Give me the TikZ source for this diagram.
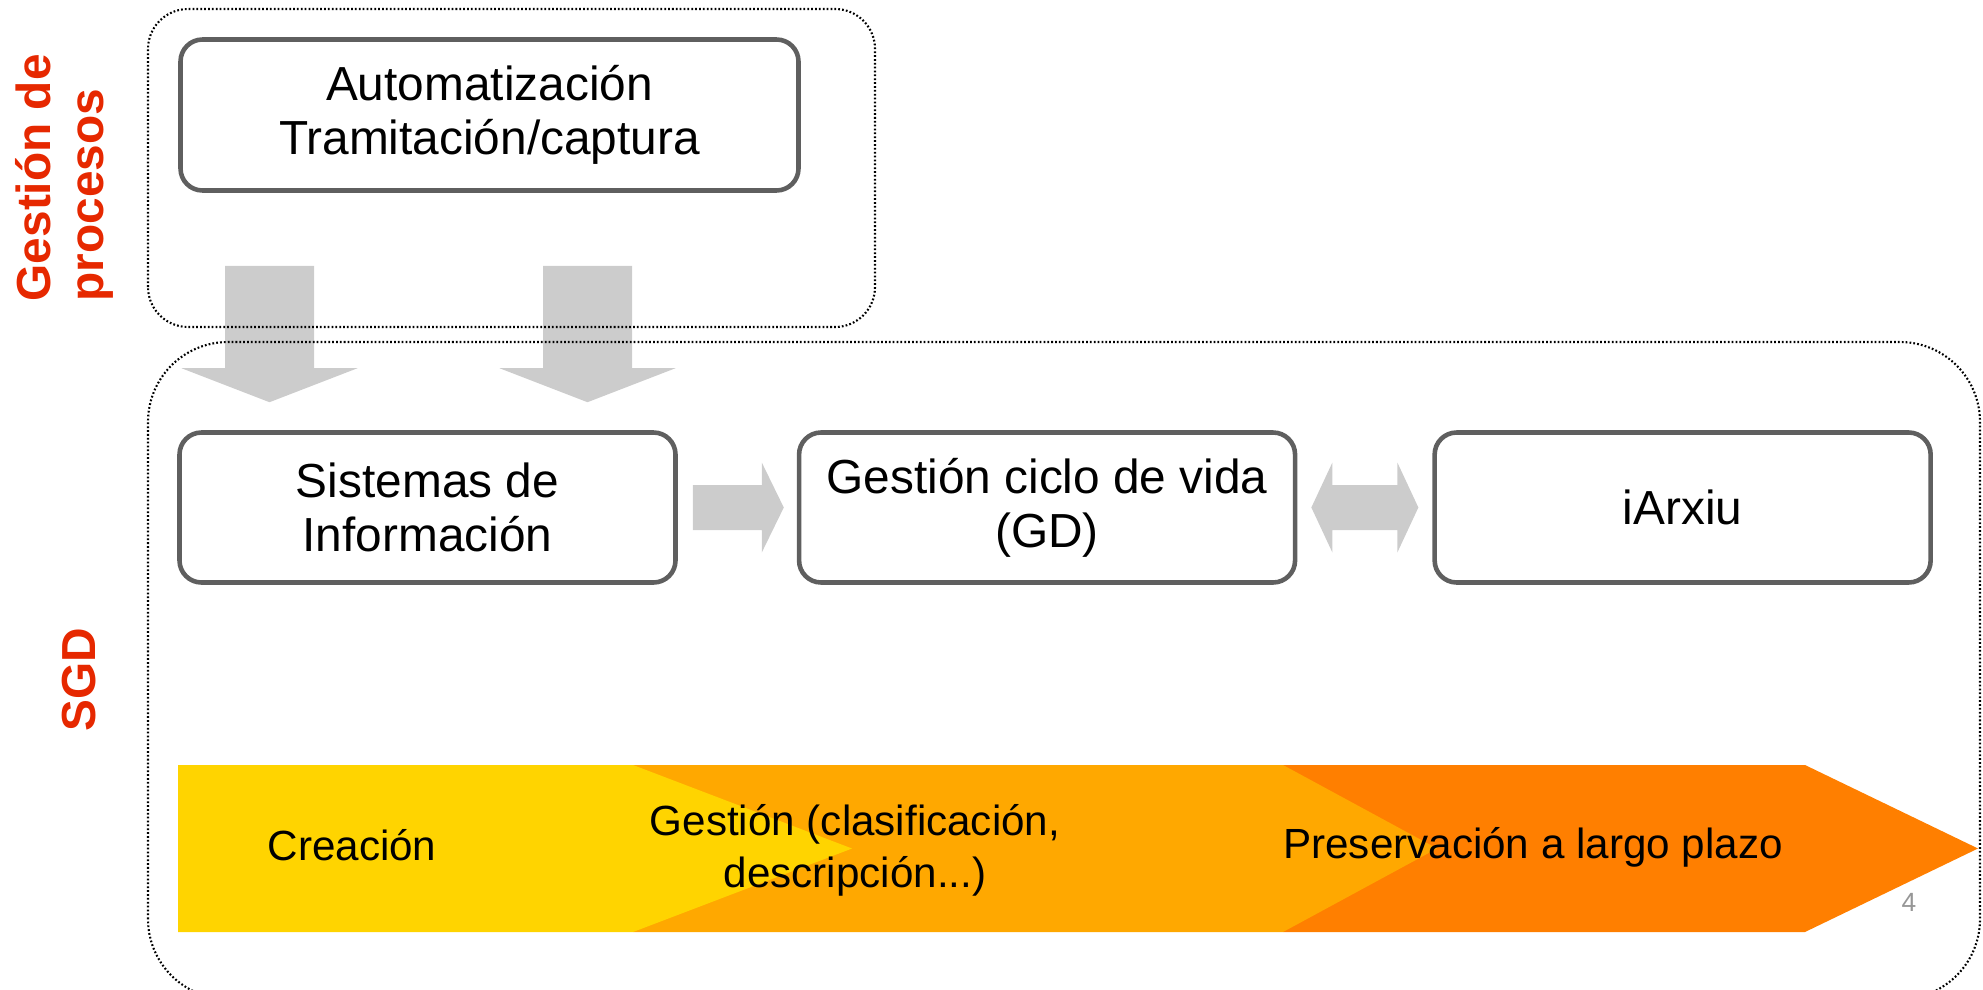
\documentclass[tikz,border=0pt]{standalone}
\usepackage{fontspec}
\setmainfont{Liberation Sans}
\usetikzlibrary{positioning,calc}
\definecolor{boxgray}{HTML}{5F5F5F}
\definecolor{arrowgray}{HTML}{CCCCCC}
\definecolor{labelred}{HTML}{E62800}
\definecolor{pagegray}{HTML}{969696}
\definecolor{phaseyellow}{HTML}{FFD400}
\definecolor{phaseorange}{HTML}{FFA800}
\definecolor{phasedark}{HTML}{FF7F00}
\tikzset{
  stage/.style={draw=boxgray, line width=1.3pt, rounded corners=0.22cm, fill=white,
    minimum width=4.96cm, minimum height=1.5cm, align=center, inner sep=0pt,
    font=\fontsize{13.6}{15.4}\selectfont},
  dotframe/.style={draw=black, line width=0.6pt, dash pattern=on 0.5pt off 0.6pt},
  blockarrow/.style={fill=arrowgray},
  sidelabel/.style={text=labelred, font=\bfseries\fontsize{13.6}{15.1}\selectfont,
    rotate=90, inner sep=0pt, align=left},
  phasetext/.style={align=center, inner sep=0pt, font=\fontsize{12}{14.8}\selectfont},
}
\begin{document}
\begin{tikzpicture}
  \useasboundingbox (0,0) rectangle (19.83,9.89);
  \def\bandtop{2.24}
  \def\bandbot{0.57}
  \def\bandmid{1.405}
  %
  % phases band, back to front
  \fill[phasedark] (12.83,\bandtop) -- (18.05,\bandtop) -- (19.78,\bandmid) -- (18.05,\bandbot) -- (12.83,\bandbot) -- cycle;
  \fill[phaseorange] (6.33,\bandtop) -- (12.83,\bandtop) -- (14.37,\bandmid) -- (12.83,\bandbot) -- (6.33,\bandbot) -- cycle;
  \fill[phaseyellow] (1.78,\bandtop) -- (6.33,\bandtop) -- (8.52,\bandmid) -- (6.33,\bandbot) -- (1.78,\bandbot) -- cycle;
  \node[phasetext] (crea) at (3.52,1.44) {Creación};
  \node[phasetext] (gest) at (8.55,1.39) {Gestión (clasificación,\\descripción...)};
  \node[phasetext] (pres) at (15.33,1.42) {Preservación a largo plazo};
  %
  % boxes
  \node[stage, minimum width=6.18cm, minimum height=1.51cm] (auto) at (4.895,8.74) {Automatización\\Tramitación/captura};
  \node[stage] (sis) at (4.275,4.815) {Sistemas de\\Información};
  \node[stage, right=1.19cm of sis] (gcv) {Gestión ciclo de vida\\(GD)};
  \node[stage, right=1.35cm of gcv] (arx) {iArxiu};
  %
  % down arrows
  \coordinate (tip1) at ($(sis.north)+(-1.58,0.28)$);
  \coordinate (tip2) at ($(sis.north)+(1.60,0.28)$);
  \foreach \t in {tip1,tip2} {
    \fill[blockarrow] ($(\t |- auto.south)+(-0.445,-0.73)$) -- ($(\t)+(-0.445,0.34)$) -- ($(\t)+(-0.88,0.34)$) -- (\t)
      -- ($(\t)+(0.88,0.34)$) -- ($(\t)+(0.445,0.34)$) -- ($(\t |- auto.south)+(0.445,-0.73)$) -- cycle;
  }
  %
  % sis -> gcv
  \coordinate (r1) at ($(sis.east)+(0.15,0)$);
  \coordinate (r2) at ($(gcv.west)+(-0.13,0)$);
  \fill[blockarrow] ($(r1)+(0,0.225)$) -- ($(r2)+(-0.22,0.225)$) -- ($(r2)+(-0.22,0.45)$) -- (r2)
    -- ($(r2)+(-0.22,-0.45)$) -- ($(r2)+(-0.22,-0.225)$) -- ($(r1)+(0,-0.225)$) -- cycle;
  %
  % gcv <-> arx
  \coordinate (d1) at ($(gcv.east)+(0.14,0)$);
  \coordinate (d2) at ($(arx.west)+(-0.14,0)$);
  \fill[blockarrow] (d1) -- ($(d1)+(0.21,0.45)$) -- ($(d1)+(0.21,0.225)$) -- ($(d2)+(-0.21,0.225)$) -- ($(d2)+(-0.21,0.45)$) -- (d2)
    -- ($(d2)+(-0.21,-0.45)$) -- ($(d2)+(-0.21,-0.225)$) -- ($(d1)+(0.21,-0.225)$) -- ($(d1)+(0.21,-0.45)$) -- cycle;
  %
  % dotted frames
  \draw[dotframe, rounded corners=0.4cm] (1.48,6.62) rectangle (8.75,9.80);   % procesos
  \draw[dotframe, rounded corners=0.8cm] (1.48,-0.1) rectangle (19.80,6.47);  % SGD
  %
  % side labels
  \node[sidelabel, anchor=west] (proc) at (0.645,6.87) {Gestión de\\procesos};
  \node[sidelabel] (sgd) at (0.79,3.09) {SGD};
  \node[text=pagegray, font=\fontsize{7.5}{9}\selectfont] (pagenum) at (19.09,0.87) {4};
\end{tikzpicture}
\end{document}
